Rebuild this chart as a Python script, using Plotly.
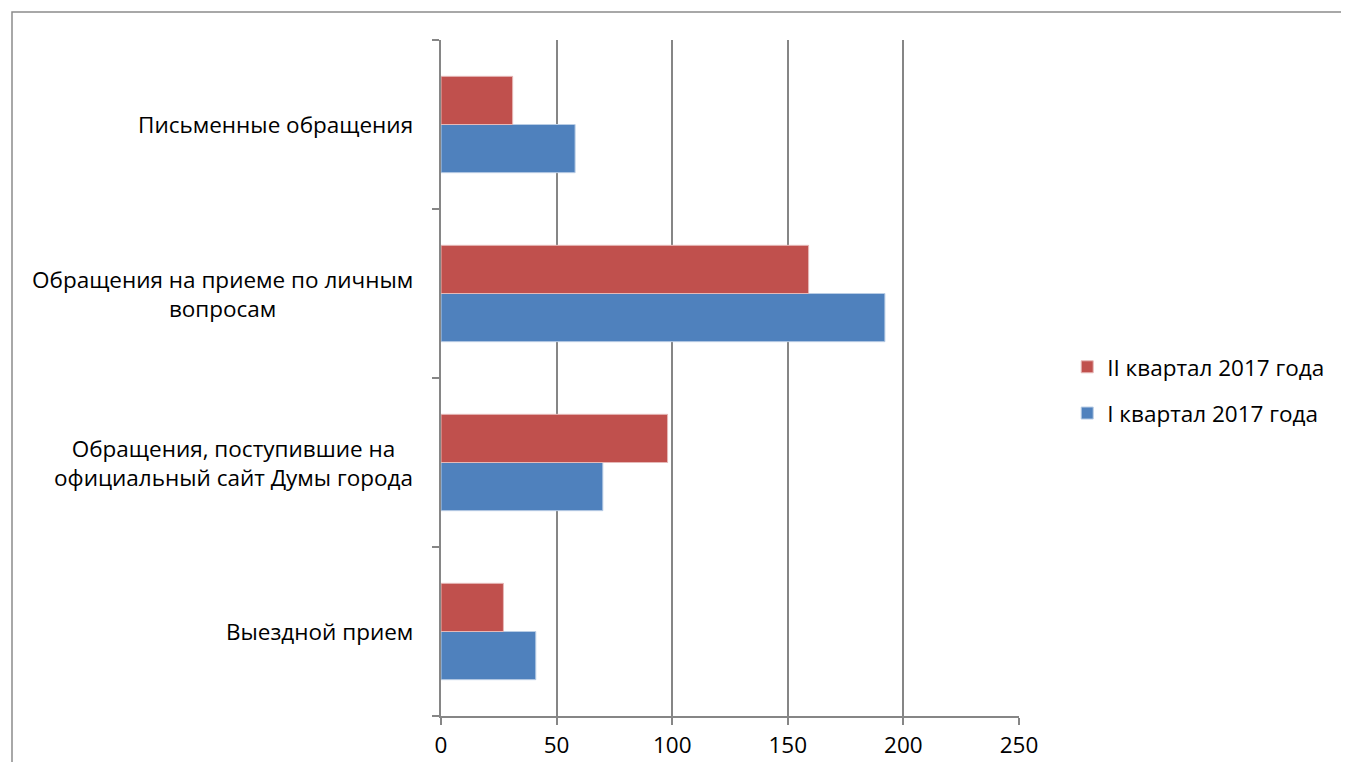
import plotly.graph_objects as go

categories = [
    "Выездной прием",
    "Обращения, поступившие на<br>официальный сайт Думы города",
    "Обращения на приеме по личным<br>вопросам",
    "Письменные обращения",
]
q1_values = [41, 70, 192, 58]
q2_values = [27, 98, 159, 31]
series_names = ["I квартал 2017 года", "II квартал 2017 года"]
x_ticks = [0, 50, 100, 150, 200, 250]

FONT = "Open Sans"
FS = 22.5
GRID = "#868686"

L, T, PW, PH = 433, 32, 578, 676
W, H = 1349, 762

fig = go.Figure()
fig.add_trace(go.Bar(
    y=categories, x=q1_values, orientation="h", name=series_names[0],
    marker=dict(color="#4F81BD", line=dict(color="#B9CDE5", width=1)),
    legendgroup="q1", legendrank=2,
))
fig.add_trace(go.Bar(
    y=categories, x=q2_values, orientation="h", name=series_names[1],
    marker=dict(color="#C0504D", line=dict(color="#E6B9B8", width=1)),
    legendgroup="q2", legendrank=1,
))

# category labels: centred multi-line text, right edge next to the axis
for c in categories:
    fig.add_annotation(
        x=-0.045, xref="paper", y=c, yref="y", text=c, showarrow=False,
        xanchor="right", yanchor="middle", align="center",
        font=dict(family=FONT, size=FS, color="black"),
    )

fig.update_layout(
    width=W, height=H,
    margin=dict(l=L, r=W - L - PW, t=T, b=H - T - PH, autoexpand=False),
    paper_bgcolor="white", plot_bgcolor="white",
    barmode="group", bargap=0.43, bargroupgap=0,
    font=dict(family=FONT, size=FS, color="black"),
    showlegend=True,
    legend=dict(
        x=1.0834, y=0.482, xanchor="left", yanchor="middle",
        traceorder="grouped", tracegroupgap=14,
        font=dict(family=FONT, size=FS, color="black"),
        itemwidth=30,
    ),
    xaxis=dict(
        range=[0, 250], tickvals=x_ticks, ticktext=[str(v) for v in x_ticks],
        showgrid=True, gridcolor=GRID, gridwidth=1.5,
        showline=True, linecolor=GRID, linewidth=1.5,
        ticks="outside", ticklen=7, tickcolor=GRID, tickwidth=1.5,
        ticklabelstandoff=1, automargin=False,
        zeroline=False, tickfont=dict(family=FONT, size=FS, color="black"),
        fixedrange=True,
    ),
    yaxis=dict(
        categoryorder="array", categoryarray=categories,
        showticklabels=False, showgrid=False, zeroline=False,
        showline=True, linecolor=GRID, linewidth=1.5,
        ticks="outside", tickson="boundaries", ticklen=7,
        tickcolor=GRID, tickwidth=1.5, fixedrange=True, automargin=False,
    ),
    shapes=[dict(
        type="rect", xref="paper", yref="paper",
        x0=(4 - L) / PW, x1=1.8, y0=-0.3, y1=1 + (T - 4) / PH,
        line=dict(color="#8C8C8C", width=1.5), fillcolor="rgba(0,0,0,0)",
        layer="below",
    )],
)

fig.write_html("out.html")
